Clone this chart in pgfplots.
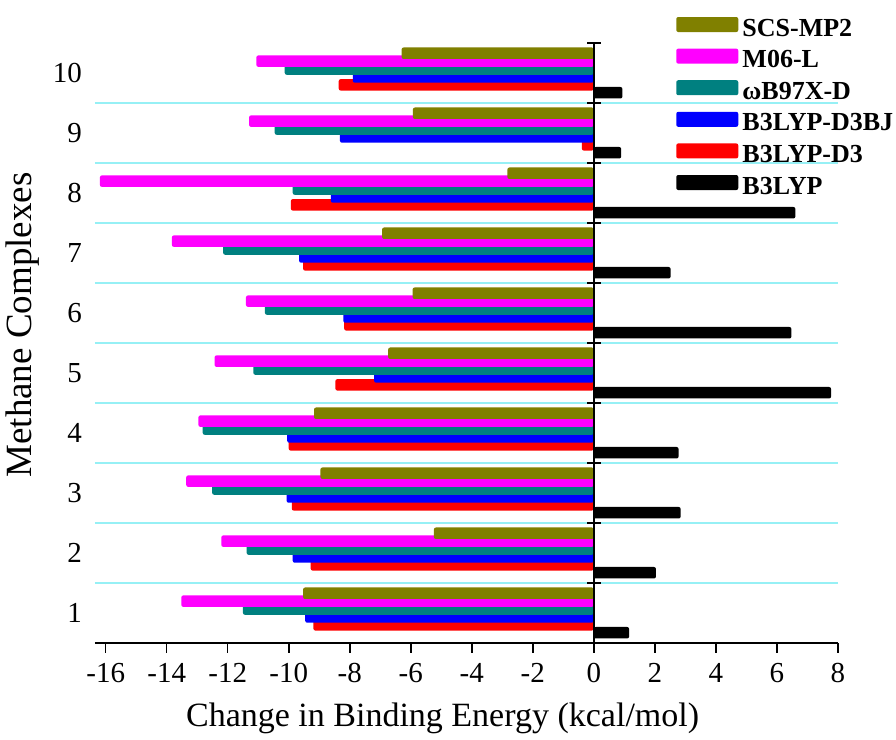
\documentclass[border=0pt]{standalone}
\usepackage{pgfplots}
\usepackage{pgfplotstable}
\pgfplotsset{compat=1.18}
\usepackage{fontspec}
\setmainfont{Liberation Serif}
\definecolor{cOlive}{RGB}{128,128,0}
\definecolor{cMag}{RGB}{255,0,255}
\definecolor{cTeal}{RGB}{0,128,128}
\definecolor{cBlue}{RGB}{0,0,255}
\definecolor{cRed}{RGB}{255,0,0}
\definecolor{cGrid}{RGB}{150,240,245}

\pgfplotstableread{
y scs m06 wb d3bj d3 b3
1 -9.53 -13.52 -11.50 -9.46 -9.19 1.16
2 -5.24 -12.21 -11.38 -9.87 -9.28 2.04
3 -8.96 -13.36 -12.51 -10.07 -9.90 2.85
4 -9.17 -12.96 -12.82 -10.05 -10.00 2.78
5 -6.74 -12.43 -11.16 -7.20 -8.47 7.78
6 -5.94 -11.40 -10.78 -8.21 -8.18 6.48
7 -6.94 -13.83 -12.15 -9.66 -9.53 2.52
8 -2.83 -16.19 -9.87 -8.62 -9.93 6.61
9 -5.93 -11.30 -10.46 -8.32 -0.39 0.90
10 -6.30 -11.06 -10.13 -7.90 -8.36 0.94
}\datatable

\begin{document}
\begin{tikzpicture}
\begin{axis}[
  scale only axis, width=371.4pt, height=300pt,
  xmin=-16.35, xmax=8, ymin=0.5, ymax=10.5,
  axis x line*=bottom, axis y line*=left,
  y axis line style={draw=none},
  x axis line style={line width=0.8pt},
  xtick={-16,-14,...,8},
  ytick={1,...,10},
  ytick style={draw=none},
  xtick style={line width=0.8pt, black},
  tick align=outside,
  major tick length=5pt,
  /pgf/number format/assume math mode=true,
  tick label style={font=\fontsize{14.5}{16}\selectfont},
  xticklabel style={yshift=-1.5pt},
  yticklabel style={xshift=2pt},
  extra y ticks={1.5,2.5,...,9.5},
  extra y tick labels={},
  extra y tick style={grid=major, major grid style={cGrid, line width=0.75pt}},
  xlabel={Change in Binding Energy (kcal/mol)},
  ylabel={Methane Complexes},
  xlabel style={at={(axis description cs:0.468,-0.125)}, anchor=center, font=\fontsize{17}{19}\selectfont},
  ylabel style={at={(axis description cs:-0.098,0.53)}, anchor=center, font=\fontsize{18.5}{20}\selectfont},
  mybar/.style={xbar, bar width=5.75pt, draw=none, rounded corners=1pt},
  legend image code/.code={\fill[#1] (0pt,-1.25pt) rectangle (31pt,6.25pt); \path (32.5pt,0pt);},
  reverse legend,
  legend style={at={(axis description cs:0.782,1.0443)}, anchor=north west,
    draw=none, fill=none, inner sep=0pt, row sep=3.1pt,
    font=\bfseries\fontsize{13}{14}\selectfont,
    nodes={inner sep=0.6pt, text height=9pt, text depth=2.5pt},
    cells={anchor=west}},
]
\addplot[mybar, bar shift=-9.875pt, fill=black] table[x=b3, y=y] {\datatable};
\addlegendentry{B3LYP}
\addplot[mybar, bar shift=-5.925pt, fill=cRed] table[x=d3, y=y] {\datatable};
\addlegendentry{B3LYP-D3}
\addplot[mybar, bar shift=-1.975pt, fill=cBlue] table[x=d3bj, y=y] {\datatable};
\addlegendentry{B3LYP-D3BJ}
\addplot[mybar, bar shift=1.975pt, fill=cTeal] table[x=wb, y=y] {\datatable};
\addlegendentry{ωB97X-D}
\addplot[mybar, bar shift=5.925pt, fill=cMag] table[x=m06, y=y] {\datatable};
\addlegendentry{M06-L}
\addplot[mybar, bar shift=9.875pt, fill=cOlive] table[x=scs, y=y] {\datatable};
\addlegendentry{SCS-MP2}
\addplot[black, line width=1pt, mark=-, mark size=3.5pt, mark options={line width=1pt}, forget plot]
  coordinates {(0,0.5) (0,1.5) (0,2.5) (0,3.5) (0,4.5) (0,5.5) (0,6.5) (0,7.5) (0,8.5) (0,9.5) (0,10.5)};
\end{axis}
\pgfresetboundingbox
\path[use as bounding box] ([shift={(-47.5pt,-48.5pt)}]current axis.south west) rectangle ++(448pt,370pt);
\end{tikzpicture}
\end{document}
